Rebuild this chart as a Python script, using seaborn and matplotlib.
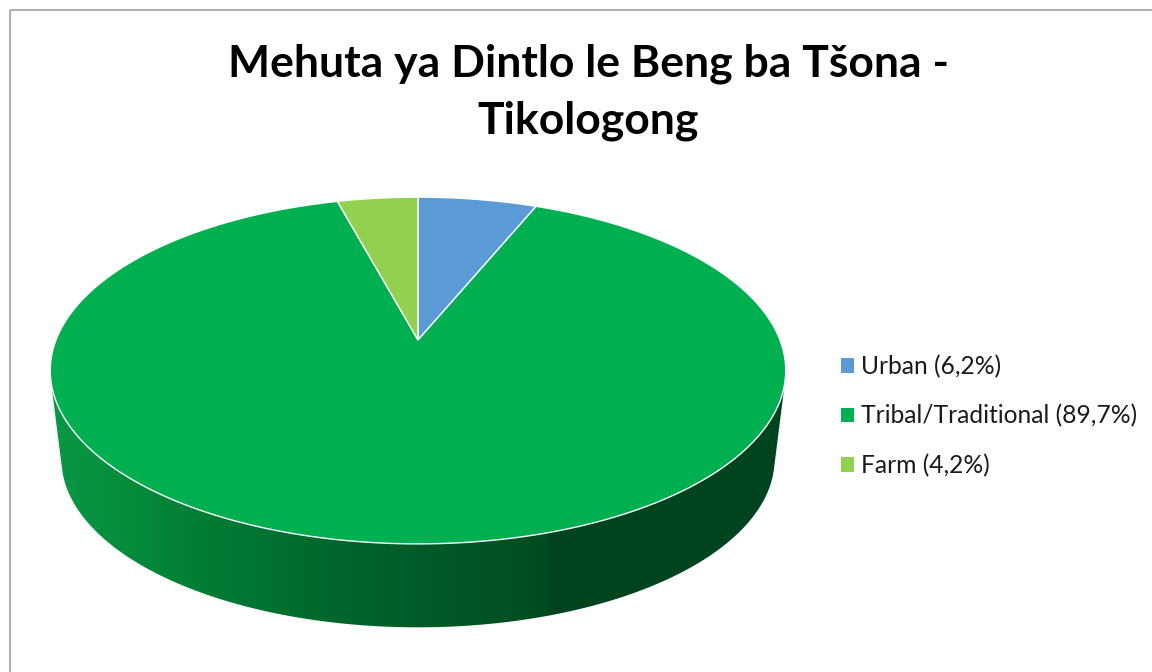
"""3D style pie of dwelling types, Tikologong."""

from __future__ import annotations

import matplotlib

matplotlib.use("Agg")
import matplotlib.pyplot as plt
import numpy as np
import seaborn as sns
from matplotlib.patches import Patch, Polygon, Rectangle

TITLE = "Mehuta ya Dintlo le Beng ba Tšona -\nTikologong"
CATEGORIES = ["Urban", "Tribal/Traditional", "Farm"]
SHARES = [6.2, 89.7, 4.2]
COLORS = ["#5b9bd5", "#00b050", "#92d050"]
WALL_STOPS = ["#0a9845", "#048a3b", "#017a34", "#006c2e", "#00602a", "#005526", "#014c22"]
WALL_DARK = "#00441f"

CX = 418
TILT = 0.176


def project(theta: np.ndarray, apex_y: float, scale_x: float, scale_y: float):
    """Perspective view of the unit circle, theta clockwise from the top."""
    x, y = np.sin(theta), np.cos(theta)
    depth = 1 + TILT * y
    return CX + scale_x * x / depth, apex_y - scale_y * y / depth


def top_ring(theta):
    return project(np.asarray(theta), 340, 362, 168)


def bottom_ring(theta):
    return project(np.asarray(theta), 429.5, 351, 163)


def convex_hull(points: np.ndarray) -> np.ndarray:
    pts = sorted(map(tuple, points))

    def half(seq):
        chain = []
        for p in seq:
            while len(chain) > 1:
                a, b = chain[-2], chain[-1]
                if (b[0] - a[0]) * (p[1] - a[1]) - (b[1] - a[1]) * (p[0] - a[0]) > 0:
                    break
                chain.pop()
            chain.append(p)
        return chain[:-1]

    return np.array(half(pts) + half(pts[::-1]))


sns.set_theme(style="white")
plt.rcParams["font.family"] = ["Lato", "DejaVu Sans"]

fig = plt.figure(figsize=(11.52, 6.72), dpi=100)
ax = fig.add_axes([0, 0, 1, 1])

# side wall: vertical colour bands clipped to the silhouette of both rims
ring = np.radians(np.linspace(0, 360, 721))
outline = convex_hull(np.vstack([np.column_stack(top_ring(ring)), np.column_stack(bottom_ring(ring))]))

cmap = sns.blend_palette(WALL_STOPS, as_cmap=True)
band_x = np.arange(45, 795)
band = np.array([cmap((x - 50) / 498) if x < 548 else matplotlib.colors.to_rgba(WALL_DARK) for x in band_x])
wall = ax.imshow(band[np.newaxis, :, :], extent=(45, 795, 640, 190), aspect="auto", zorder=1)
clip = Polygon(outline, closed=True, transform=ax.transData, facecolor="none", edgecolor="none")
ax.add_patch(clip)
wall.set_clip_path(clip)

# top face
fractions = np.array(SHARES) / sum(SHARES)
edges = np.r_[0, np.cumsum(fractions)] * 2 * np.pi
for start, stop, color in zip(edges[:-1], edges[1:], COLORS):
    arc = np.linspace(start, stop, 400)
    px, py = top_ring(arc)
    ax.fill(np.r_[CX, px], np.r_[340, py], facecolor=color, edgecolor="white", linewidth=1.0, zorder=2)

# chart frame runs off the canvas on the right and bottom
ax.add_patch(Rectangle((10, 10), 1300, 800, facecolor="none", edgecolor="#a6a6a6", linewidth=1.3, zorder=3))

ax.text(588, 92, TITLE, ha="center", va="center", fontsize=32, fontweight="bold", color="black", linespacing=1.5)

labels = [f"{name} ({share:.1f}%)".replace(".", ",") for name, share in zip(CATEGORIES, SHARES)]
handles = [Patch(facecolor=color, edgecolor="none") for color in COLORS]
ax.legend(
    handles,
    labels,
    loc="center left",
    bbox_to_anchor=(841 / 1152, 1 - 416 / 672),
    frameon=False,
    fontsize=17.7,
    labelcolor="#1a1a1a",
    handlelength=0.53,
    handleheight=0.53,
    handletextpad=0.28,
    labelspacing=1.06,
    borderpad=0,
    borderaxespad=0,
)

ax.set_xlim(0, 1152)
ax.set_ylim(672, 0)
ax.axis("off")

fig.savefig("out.png", dpi=100)
plt.close(fig)
